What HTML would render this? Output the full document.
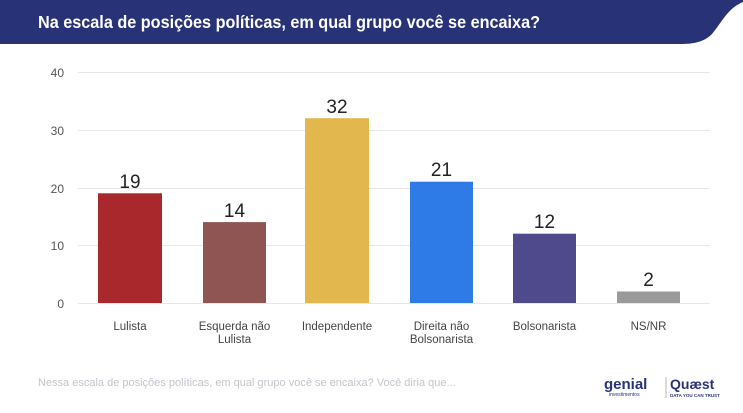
<!DOCTYPE html>
<html><head><meta charset="utf-8"><style>
body{margin:0;width:743px;height:413px;background:#fff;overflow:hidden;font-family:"Liberation Sans",sans-serif;position:relative}
</style></head><body>
<svg width="743" height="413" style="position:absolute;left:0;top:0">
<path d="M0 0 H743 V2 C728 8 722 22 712 34 C704 42 694 44 680 44 H0 Z" fill="#283377"/>
<text x="38" y="28" font-size="17.5" font-weight="bold" fill="#fff" textLength="502" lengthAdjust="spacingAndGlyphs">Na escala de posições políticas, em qual grupo você se encaixa?</text>
<g stroke="#e6e6e6" stroke-width="1">
<line x1="78" x2="710" y1="72.5" y2="72.5"/><line x1="78" x2="710" y1="130.5" y2="130.5"/><line x1="78" x2="710" y1="188.5" y2="188.5"/><line x1="78" x2="710" y1="245.5" y2="245.5"/><line x1="78" x2="710" y1="303.5" y2="303.5"/>
</g>
<g font-size="12" fill="#555" text-anchor="end">
<text x="64" y="77">40</text><text x="64" y="135">30</text><text x="64" y="193">20</text><text x="64" y="250">10</text><text x="64" y="308">0</text>
</g>
<rect x="98" y="193.3" width="64" height="109.7" fill="#a8282c"/>
<rect x="203" y="222.1" width="63" height="80.9" fill="#8e5552"/>
<rect x="305" y="118.2" width="64" height="184.8" fill="#e2b84e"/>
<rect x="410" y="181.7" width="63" height="121.3" fill="#2e7be8"/>
<rect x="513" y="233.7" width="63" height="69.3" fill="#4f4a8c"/>
<rect x="617" y="291.5" width="63" height="11.5" fill="#9a9a9a"/>
<g font-size="19" fill="#222" text-anchor="middle">
<text x="130" y="188">19</text><text x="234.5" y="217">14</text><text x="337" y="113">32</text><text x="441.5" y="176">21</text><text x="544.5" y="228">12</text><text x="648.5" y="286">2</text>
</g>
<g font-size="11.5" fill="#444" text-anchor="middle">
<text x="130" y="330">Lulista</text>
<text x="234.5" y="330">Esquerda não</text><text x="234.5" y="343">Lulista</text>
<text x="337" y="330">Independente</text>
<text x="441.5" y="330">Direita não</text><text x="441.5" y="343">Bolsonarista</text>
<text x="544.5" y="330">Bolsonarista</text>
<text x="648.5" y="330">NS/NR</text>
</g>
<text x="38" y="386" font-size="11" fill="#c4c4cc">Nessa escala de posições políticas, em qual grupo você se encaixa? Você diria que...</text>
<text x="604" y="389" font-size="15" font-weight="bold" fill="#283377">genial</text>
<text x="609" y="396" font-size="5" fill="#283377">investimentos</text>
<line x1="666" y1="377" x2="666" y2="398" stroke="#bbb"/>
<text x="670" y="389" font-size="14" font-weight="bold" fill="#283377">Quæst</text>
<text x="670" y="397" font-size="4.5" font-weight="bold" fill="#283377">DATA YOU CAN TRUST</text>
</svg>
</body></html>
